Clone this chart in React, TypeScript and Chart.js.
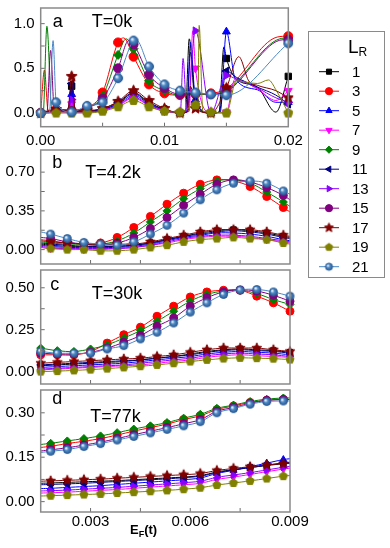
import React, { useEffect, useRef } from 'react';
import { Chart, registerables } from 'chart.js';
import { drawPoint } from 'chart.js/helpers';

Chart.register(...registerables);

const FONT = "'Liberation Sans', Arial, sans-serif";
Chart.defaults.font.family = FONT;

// ---------------- series ----------------
const SERIES_LABELS = ['1', '3', '5', '7', '9', '11', '13', '15', '17', '19', '21'];

// ---------------- panel a (T=0k) ----------------
const A_X = [0, 0.00125, 0.0025, 0.00375, 0.005, 0.00625, 0.0075, 0.00875, 0.01, 0.01125, 0.0125, 0.01375, 0.015, 0.01625, 0.0175, 0.01875, 0.02];
const A_1 = [0, 0.02, 0.30, 0.02, 0.04, 0.11, 0.22, 0.11, 0.04, 0.0, 0.08, 0.0, 0.61, null, null, null, 0.41];
const A_3 = [0, 0.04, 0.03, 0.06, 0.23, 0.79, 0.63, 0.32, 0.22, 0.20, 0.21, 0.22, 0.27, null, null, null, 0.86];
const A_5 = [0, 0.02, 0.21, 0.02, 0.04, 0.10, 0.20, 0.10, 0.03, 0.0, 0.15, 0.0, 0.91, null, null, null, 0.12];
const A_7 = [0, 0.01, 0.10, 0.01, 0.03, 0.08, 0.17, 0.08, 0.02, 0.0, 0.50, 0.0, 0.01, null, null, null, 0.25];
const A_9 = [0, 0.04, 0.03, 0.06, 0.19, 0.65, 0.72, 0.36, 0.25, 0.20, 0.21, 0.21, 0.25, null, null, null, 0.84];
const A_11 = [0, 0.03, 0.33, 0.02, 0.05, 0.12, 0.23, 0.12, 0.04, 0.0, 0.12, 0.0, 0.47, null, null, null, 0.10];
const A_13 = [0, 0.02, 0.15, 0.01, 0.03, 0.09, 0.18, 0.09, 0.03, 0.0, 0.92, 0.0, 0.42, null, null, null, 0.12];
const A_15 = [0, 0.03, 0.02, 0.06, 0.16, 0.50, 0.77, 0.43, 0.28, 0.21, 0.22, 0.21, 0.24, null, null, null, 0.82];
const A_17 = [0, 0.04, 0.41, 0.03, 0.05, 0.13, 0.25, 0.14, 0.05, 0.0, 0.05, 0.0, 0.28, null, null, null, 0.17];
const A_19 = [0, 0.0, 0.0, 0.0, 0.02, 0.07, 0.14, 0.07, 0.02, 0.01, 0.09, 0.01, 0.0, null, null, null, 0.0];
const A_21 = [0, 0.12, 0.01, 0.08, 0.12, 0.39, 0.81, 0.52, 0.32, 0.25, 0.23, 0.21, 0.20, null, null, null, 0.78];

// extra line-only points of panel a (spikes, segments between markers) [x, y]
const AS_1 = [[0.0022, 0.02], [0.0028, 0.02], [0.0117, 0.02], [0.0120, 0.83], [0.0144, 0.01], [0.0148, 0.74], [0.0158, 0.38], [0.0175, 0.29], [0.019, 0.01]];
const AS_3 = [[0.0003, 0.48], [0.0006, 0.03], [0.0067, 0.84], [0.0191, 0.85]];
const AS_5 = [[0.0022, 0.02], [0.0028, 0.02], [0.0118, 0.01], [0.0121, 0.79], [0.0145, 0.01], [0.0157, 0.39], [0.0175, 0.26], [0.019, 0.12]];
const AS_7 = [[0.0022, 0.01], [0.0028, 0.01], [0.0120, 0.02], [0.01228, 0.92], [0.0146, 0.0], [0.0157, 0.38], [0.0175, 0.27], [0.019, 0.14]];
const AS_9 = [[0.0002, 0.0], [0.0005, 0.97], [0.0009, 0.04], [0.0069, 0.83], [0.0193, 0.83]];
const AS_11 = [[0.0022, 0.02], [0.0028, 0.02], [0.0118, 0.01], [0.0121, 0.68], [0.0144, 0.01], [0.0158, 0.40], [0.0175, 0.29], [0.019, 0.20]];
const AS_13 = [[0.0022, 0.01], [0.0028, 0.01], [0.0113, 0.02], [0.0115, 0.61], [0.0118, 0.03], [0.0158, 0.38], [0.0175, 0.28], [0.019, 0.17]];
const AS_15 = [[0.0005, 0.0], [0.0008, 0.70], [0.0011, 0.03], [0.0071, 0.81], [0.0196, 0.82]];
const AS_17 = [[0.0022, 0.03], [0.0028, 0.03], [0.0119, 0.02], [0.0121, 0.30], [0.016, 0.63], [0.0168, 0.36], [0.0175, 0.31], [0.019, 0.25]];
const AS_19 = [[0.0127, 0.10], [0.0128, 0.98], [0.0131, 0.02], [0.0158, 0.36], [0.0175, 0.33], [0.0184, 0.37], [0.019, 0.26]];
const AS_21 = [[0.0007, 0.0], [0.001, 0.81], [0.0077, 0.82]];

// ---------------- panel b (T=4.2k) ----------------
const B_X = [0.0015, 0.0018, 0.0023, 0.0028, 0.0033, 0.0038, 0.0043, 0.0048, 0.0053, 0.0058, 0.0063, 0.0068, 0.0073, 0.0078, 0.0083, 0.0088, 0.009];
const B_1 = [0.05, 0.04, 0.03, 0.03, 0.03, 0.03, 0.04, 0.06, 0.09, 0.12, 0.15, 0.17, 0.18, 0.17, 0.15, 0.12, 0.11];
const B_3 = [0.09, 0.08, 0.06, 0.05, 0.06, 0.11, 0.20, 0.30, 0.41, 0.51, 0.59, 0.63, 0.62, 0.57, 0.48, 0.38, 0.34];
const B_5 = [0.04, 0.03, 0.02, 0.02, 0.02, 0.02, 0.03, 0.05, 0.08, 0.11, 0.13, 0.15, 0.15, 0.14, 0.12, 0.09, 0.08];
const B_7 = [0.02, 0.01, 0.01, 0.00, 0.00, 0.01, 0.02, 0.04, 0.06, 0.09, 0.11, 0.12, 0.12, 0.11, 0.09, 0.07, 0.06];
const B_9 = [0.07, 0.06, 0.05, 0.05, 0.05, 0.08, 0.15, 0.25, 0.35, 0.46, 0.55, 0.62, 0.63, 0.60, 0.52, 0.43, 0.39];
const B_11 = [0.06, 0.05, 0.04, 0.03, 0.03, 0.03, 0.04, 0.06, 0.09, 0.12, 0.14, 0.16, 0.17, 0.16, 0.14, 0.11, 0.10];
const B_13 = [0.03, 0.02, 0.01, 0.01, 0.01, 0.01, 0.02, 0.04, 0.07, 0.10, 0.12, 0.13, 0.13, 0.12, 0.10, 0.08, 0.07];
const B_15 = [0.11, 0.10, 0.07, 0.05, 0.04, 0.06, 0.11, 0.19, 0.29, 0.40, 0.50, 0.59, 0.63, 0.61, 0.56, 0.49, 0.45];
const B_17 = [0.08, 0.07, 0.06, 0.05, 0.05, 0.05, 0.05, 0.07, 0.10, 0.13, 0.16, 0.18, 0.18, 0.18, 0.16, 0.13, 0.12];
const B_19 = [0.02, 0.01, 0.00, 0.00, -0.01, -0.01, 0.00, 0.02, 0.04, 0.07, 0.09, 0.10, 0.11, 0.10, 0.09, 0.06, 0.05];
const B_21 = [0.16, 0.14, 0.10, 0.065, 0.05, 0.04, 0.07, 0.14, 0.22, 0.33, 0.45, 0.54, 0.60, 0.62, 0.60, 0.53, 0.50];

// ---------------- panel c (T=30k) ----------------
const C_X = [0.0015, 0.002, 0.0025, 0.003, 0.0035, 0.004, 0.0045, 0.005, 0.0055, 0.006, 0.0065, 0.007, 0.0075, 0.008, 0.0085, 0.009];
const C_1 = [0.035, 0.04, 0.045, 0.05, 0.055, 0.06, 0.07, 0.08, 0.09, 0.105, 0.12, 0.13, 0.135, 0.13, 0.125, 0.115];
const C_3 = [0.10, 0.10, 0.10, 0.12, 0.17, 0.22, 0.265, 0.33, 0.39, 0.445, 0.475, 0.485, 0.485, 0.45, 0.41, 0.36];
const C_5 = [0.025, 0.03, 0.035, 0.04, 0.045, 0.05, 0.06, 0.07, 0.08, 0.09, 0.105, 0.115, 0.12, 0.115, 0.11, 0.10];
const C_7 = [0.01, 0.015, 0.02, 0.025, 0.03, 0.035, 0.04, 0.05, 0.06, 0.07, 0.085, 0.095, 0.10, 0.095, 0.09, 0.085];
const C_9 = [0.14, 0.125, 0.12, 0.135, 0.16, 0.20, 0.245, 0.30, 0.36, 0.42, 0.46, 0.48, 0.485, 0.465, 0.43, 0.40];
const C_11 = [0.04, 0.045, 0.05, 0.055, 0.06, 0.065, 0.07, 0.08, 0.09, 0.10, 0.115, 0.125, 0.13, 0.125, 0.12, 0.11];
const C_13 = [0.015, 0.02, 0.025, 0.03, 0.035, 0.04, 0.05, 0.06, 0.07, 0.08, 0.095, 0.105, 0.11, 0.105, 0.10, 0.09];
const C_15 = [0.11, 0.105, 0.105, 0.115, 0.14, 0.175, 0.215, 0.27, 0.32, 0.39, 0.44, 0.475, 0.487, 0.48, 0.455, 0.42];
const C_17 = [0.05, 0.055, 0.06, 0.065, 0.07, 0.075, 0.08, 0.09, 0.10, 0.115, 0.13, 0.14, 0.14, 0.14, 0.13, 0.12];
const C_19 = [0.0, 0.003, 0.007, 0.012, 0.018, 0.025, 0.032, 0.04, 0.05, 0.06, 0.07, 0.078, 0.082, 0.08, 0.077, 0.072];
const C_21 = [0.12, 0.11, 0.11, 0.11, 0.135, 0.155, 0.195, 0.235, 0.29, 0.355, 0.41, 0.46, 0.487, 0.49, 0.475, 0.45];

// ---------------- panel d (T=77k) ----------------
const D_X = [0.0015, 0.0018, 0.0023, 0.0028, 0.0033, 0.0038, 0.0043, 0.0048, 0.0053, 0.0058, 0.0063, 0.0068, 0.0073, 0.0078, 0.0083, 0.0088, 0.009];
const D_1 = [0.062, 0.063, 0.065, 0.067, 0.069, 0.071, 0.074, 0.077, 0.080, 0.083, 0.088, 0.100, 0.108, 0.115, 0.122, 0.128, 0.130];
const D_3 = [0.183, 0.187, 0.196, 0.204, 0.213, 0.225, 0.238, 0.250, 0.262, 0.277, 0.290, 0.311, 0.323, 0.335, 0.342, 0.345, 0.345];
const D_5 = [0.044, 0.045, 0.048, 0.051, 0.054, 0.058, 0.062, 0.066, 0.070, 0.074, 0.080, 0.095, 0.106, 0.118, 0.130, 0.142, 0.145];
const D_7 = [0.029, 0.030, 0.032, 0.035, 0.038, 0.041, 0.045, 0.049, 0.053, 0.057, 0.062, 0.075, 0.083, 0.092, 0.101, 0.110, 0.113];
const D_9 = [0.193, 0.197, 0.205, 0.213, 0.222, 0.233, 0.245, 0.256, 0.267, 0.282, 0.295, 0.315, 0.326, 0.338, 0.346, 0.350, 0.350];
const D_11 = [0.057, 0.058, 0.060, 0.062, 0.065, 0.068, 0.071, 0.074, 0.077, 0.081, 0.086, 0.098, 0.107, 0.115, 0.123, 0.131, 0.133];
const D_13 = [0.036, 0.037, 0.039, 0.042, 0.045, 0.048, 0.052, 0.056, 0.060, 0.064, 0.069, 0.082, 0.090, 0.098, 0.107, 0.116, 0.119];
const D_15 = [0.171, 0.175, 0.182, 0.191, 0.201, 0.213, 0.226, 0.238, 0.250, 0.263, 0.277, 0.305, 0.318, 0.332, 0.342, 0.345, 0.345];
const D_17 = [0.069, 0.070, 0.072, 0.074, 0.076, 0.079, 0.082, 0.085, 0.088, 0.091, 0.095, 0.105, 0.112, 0.118, 0.124, 0.128, 0.129];
const D_19 = [0.019, 0.020, 0.022, 0.024, 0.026, 0.029, 0.032, 0.035, 0.038, 0.042, 0.047, 0.056, 0.063, 0.070, 0.078, 0.086, 0.088];
const D_21 = [0.166, 0.170, 0.176, 0.186, 0.196, 0.208, 0.220, 0.232, 0.244, 0.256, 0.270, 0.300, 0.314, 0.329, 0.338, 0.340, 0.340];

// ---------------- ticks ----------------
const A_XTICKS = [0, 0.01, 0.02];
const A_XLABELS = ['0.00', '0.01', '0.02'];
const A_XMINOR = [0.005, 0.015];
const A_YTICKS = [0, 0.5, 1.0];
const A_YLABELS = ['0.0', '0.5', '1.0'];
const A_YMINOR = [0.25, 0.75];
const BCD_XTICKS = [0.003, 0.006, 0.009];
const BCD_XLABELS = ['0.003', '0.006', '0.009'];
const BCD_XMINOR = [0.0045, 0.0075];
const B_YTICKS = [0, 0.35, 0.70];
const B_YLABELS = ['0.00', '0.35', '0.70'];
const B_YMINOR = [0.175, 0.525];
const C_YTICKS = [0, 0.25, 0.5];
const C_YLABELS = ['0.00', '0.25', '0.50'];
const C_YMINOR = [0.125, 0.375];
const D_YTICKS = [0, 0.15, 0.30];
const D_YLABELS = ['0.00', '0.15', '0.30'];
const D_YMINOR = [0.075, 0.225];

// ---------------- styles ----------------
const COLORS = ['#000000', '#ff0000', '#0000ff', '#ff00ff', '#008000', '#000080', '#8a00ff', '#800080', '#800000', '#808000', '#4a87c6'];
const SHAPES = ['rect', 'circle', 'triangle', 'triangle', 'rectRot', 'triangle', 'triangle', 'circle', 'star5', 'pentagon', 'sphere'];
const ROTS = [0, 0, 0, 180, 0, 270, 90, 0, 0, 0, 0];
const DRAW_ORDER = [10, 9, 8, 7, 6, 5, 4, 3, 2, 1, 0];

const imgCache: Record<string, HTMLCanvasElement> = {};
function markerImage(kind: string, color: string, r: number): HTMLCanvasElement {
  const key = kind + color + r;
  if (imgCache[key]) return imgCache[key];
  const s = Math.ceil(r * 2 + 3);
  const c = document.createElement('canvas');
  c.width = s;
  c.height = s;
  const g = c.getContext('2d')!;
  const cx = s / 2;
  const cy = s / 2;
  g.fillStyle = color;
  g.strokeStyle = color;
  g.lineWidth = 1;
  g.beginPath();
  if (kind === 'star5') {
    for (let k = 0; k < 10; k++) {
      const rr = k % 2 === 0 ? r : r * 0.45;
      const a = -Math.PI / 2 + (k * Math.PI) / 5;
      const px = cx + rr * Math.cos(a);
      const py = cy + rr * Math.sin(a);
      if (k === 0) g.moveTo(px, py);
      else g.lineTo(px, py);
    }
    g.closePath();
    g.fill();
    g.stroke();
  } else if (kind === 'pentagon') {
    for (let k = 0; k < 5; k++) {
      const a = -Math.PI / 2 + (k * 2 * Math.PI) / 5;
      const px = cx + r * Math.cos(a);
      const py = cy + r * Math.sin(a);
      if (k === 0) g.moveTo(px, py);
      else g.lineTo(px, py);
    }
    g.closePath();
    g.fill();
    g.stroke();
  } else {
    const grad = g.createRadialGradient(cx - r * 0.35, cy - r * 0.35, r * 0.1, cx, cy, r);
    grad.addColorStop(0, '#f2f6fb');
    grad.addColorStop(0.45, color);
    grad.addColorStop(1, '#2d5e96');
    g.fillStyle = grad;
    g.arc(cx, cy, r, 0, Math.PI * 2);
    g.fill();
    g.strokeStyle = '#2d5e96';
    g.stroke();
  }
  imgCache[key] = c;
  return c;
}

function pointStyleFor(si: number, r: number): any {
  const sh = SHAPES[si];
  if (sh === 'star5') return markerImage('star5', COLORS[si], r + 1.2);
  if (sh === 'pentagon') return markerImage('pentagon', COLORS[si], r + 0.3);
  if (sh === 'sphere') return markerImage('sphere', COLORS[si], r);
  return sh;
}

type Pt = { x: number; y: number; m: boolean };

function gridPoints(xs: number[], ys: number[], edges: boolean): Pt[] {
  return xs.map((x, i) => ({ x, y: ys[i], m: edges ? i > 0 && i < xs.length - 1 : true }));
}

function mergedPoints(xs: number[], ys: (number | null)[], extra: number[][]): Pt[] {
  const pts: Pt[] = [];
  xs.forEach((x, i) => {
    const v = ys[i];
    if (v !== null) pts.push({ x, y: v, m: true });
  });
  extra.forEach(([x, y]) => pts.push({ x, y, m: false }));
  pts.sort((p, q) => p.x - q.x);
  return pts;
}

const A_SERIES = [A_1, A_3, A_5, A_7, A_9, A_11, A_13, A_15, A_17, A_19, A_21];
const AS_SERIES = [AS_1, AS_3, AS_5, AS_7, AS_9, AS_11, AS_13, AS_15, AS_17, AS_19, AS_21];
const B_SERIES = [B_1, B_3, B_5, B_7, B_9, B_11, B_13, B_15, B_17, B_19, B_21];
const C_SERIES = [C_1, C_3, C_5, C_7, C_9, C_11, C_13, C_15, C_17, C_19, C_21];
const D_SERIES = [D_1, D_3, D_5, D_7, D_9, D_11, D_13, D_15, D_17, D_19, D_21];

// canvas margin around each plot area (keeps Chart.js auto padding from moving the plot)
const M = 12;

const PANELS = [
  {
    id: 'a', plotTop: 5, plotBottom: 126.7, left: 40.7, right: 288.3, w: 310, below: 24,
    xMin: 0, xMax: 0.02, yMin: -0.153, yMax: 1.175,
    xTicks: A_XTICKS, xLabels: A_XLABELS, xMinor: A_XMINOR, showX: true, xPad: 5,
    yTicks: A_YTICKS, yLabels: A_YLABELS, yMinor: A_YMINOR,
    points: A_SERIES.map((s, i) => mergedPoints(A_X, s, AS_SERIES[i])),
    r: 4.5, mono: true, texts: [['a', 12, 19], ['T=0k', 51, 19]],
  },
  {
    id: 'b', plotTop: 147, plotBottom: 266.5, left: 40.7, right: 290, w: 310, below: M,
    xMin: 0.0015, xMax: 0.009, yMin: -0.13, yMax: 0.9,
    xTicks: BCD_XTICKS, xLabels: BCD_XLABELS, xMinor: BCD_XMINOR, showX: false, xPad: 0,
    yTicks: B_YTICKS, yLabels: B_YLABELS, yMinor: B_YMINOR,
    points: B_SERIES.map((s) => gridPoints(B_X, s, true)),
    r: 4, mono: false, texts: [['b', 11.5, 18], ['T=4.2k', 44.5, 28]],
  },
  {
    id: 'c', plotTop: 266.5, plotBottom: 386.5, left: 40.7, right: 290, w: 310, below: M,
    xMin: 0.0015, xMax: 0.009, yMin: -0.074, yMax: 0.606,
    xTicks: BCD_XTICKS, xLabels: BCD_XLABELS, xMinor: BCD_XMINOR, showX: false, xPad: 0,
    yTicks: C_YTICKS, yLabels: C_YLABELS, yMinor: C_YMINOR,
    points: C_SERIES.map((s) => gridPoints(C_X, s, false)),
    r: 4, mono: false, texts: [['c', 9.5, 19.5], ['T=30k', 51, 28.5]],
  },
  {
    id: 'd', plotTop: 386.5, plotBottom: 511.5, left: 40.7, right: 290, w: 310, below: 24,
    xMin: 0.0015, xMax: 0.009, yMin: -0.035, yMax: 0.377,
    xTicks: BCD_XTICKS, xLabels: BCD_XLABELS, xMinor: BCD_XMINOR, showX: true, xPad: 1,
    yTicks: D_YTICKS, yLabels: D_YLABELS, yMinor: D_YMINOR,
    points: D_SERIES.map((s) => gridPoints(D_X, s, true)),
    r: 4, mono: false, texts: [['d', 11.5, 13.5], ['T=77k', 49.5, 31.5]],
  },
];

type PanelCfg = (typeof PANELS)[number];

function canvasTop(p: PanelCfg) {
  return p.plotTop - M;
}
function canvasHeight(p: PanelCfg) {
  return Math.ceil(p.plotBottom - p.plotTop + M + p.below);
}

function makeChart(canvas: HTMLCanvasElement, p: PanelCfg) {
  const top = canvasTop(p);
  const h = canvasHeight(p);
  const datasets = DRAW_ORDER.map((si) => ({
    label: SERIES_LABELS[si],
    data: p.points[si],
    borderColor: COLORS[si],
    backgroundColor: COLORS[si],
    borderWidth: 1,
    pointStyle: pointStyleFor(si, p.r),
    pointRotation: ROTS[si],
    pointBackgroundColor: COLORS[si],
    pointBorderColor: COLORS[si],
    pointBorderWidth: 1,
    pointRadius: (ctx: any) => (ctx.raw && ctx.raw.m ? p.r : 0),
    pointHoverRadius: (ctx: any) => (ctx.raw && ctx.raw.m ? p.r : 0),
    tension: p.mono ? 0 : 0.4,
    cubicInterpolationMode: p.mono ? 'monotone' : 'default',
    clip: 5,
  }));

  const deco = {
    id: 'deco' + p.id,
    afterDatasetsDraw(chart: any) {
      const { ctx, chartArea: ca, scales } = chart;
      ctx.save();
      ctx.strokeStyle = '#6e6e6e';
      ctx.lineWidth = 1;
      ctx.beginPath();
      [...p.xTicks, ...p.xMinor].forEach((v) => {
        const px = scales.x.getPixelForValue(v);
        if (px > ca.left + 1 && px < ca.right - 1) {
          ctx.moveTo(px, ca.bottom);
          ctx.lineTo(px, ca.bottom - 4);
        }
      });
      [...p.yTicks, ...p.yMinor].forEach((v) => {
        const py = scales.y.getPixelForValue(v);
        ctx.moveTo(ca.left, py);
        ctx.lineTo(ca.left + 4, py);
      });
      ctx.stroke();
      ctx.strokeStyle = '#8a8a8a';
      ctx.lineWidth = 1.5;
      ctx.strokeRect(ca.left, ca.top, ca.right - ca.left, ca.bottom - ca.top);
      ctx.fillStyle = '#000';
      ctx.font = `18px ${FONT}`;
      ctx.textBaseline = 'alphabetic';
      ctx.textAlign = 'left';
      p.texts.forEach(([t, dx, dy]) => ctx.fillText(t as string, ca.left + (dx as number), ca.top + (dy as number)));
      ctx.restore();
    },
  };

  return new Chart(canvas, {
    type: 'line',
    data: { datasets } as any,
    options: {
      responsive: false,
      animation: false,
      events: [],
      layout: {
        autoPadding: false,
        padding: { left: 0, top: p.plotTop - top, right: p.w - p.right, bottom: 0 },
      },
      plugins: { legend: { display: false }, tooltip: { enabled: false }, title: { display: false } },
      scales: {
        x: {
          type: 'linear',
          min: p.xMin,
          max: p.xMax,
          grid: { display: false, drawTicks: false },
          border: { display: false },
          afterBuildTicks: (s: any) => {
            s.ticks = p.xTicks.map((v) => ({ value: v }));
          },
          afterFit: (s: any) => {
            s.height = top + h - p.plotBottom;
          },
          ticks: {
            display: p.showX,
            autoSkip: false,
            maxRotation: 0,
            padding: p.xPad,
            color: '#000',
            font: { size: 15, family: FONT },
            callback: (_v: any, i: number) => p.xLabels[i],
          },
        },
        y: {
          type: 'linear',
          min: p.yMin,
          max: p.yMax,
          grid: { display: false, drawTicks: false },
          border: { display: false },
          afterBuildTicks: (s: any) => {
            s.ticks = p.yTicks.map((v) => ({ value: v }));
          },
          afterFit: (s: any) => {
            s.width = p.left;
          },
          ticks: {
            padding: 6,
            color: '#000',
            font: { size: 15, family: FONT },
            callback: (_v: any, i: number) => p.yLabels[i],
          },
        },
      },
    } as any,
    plugins: [deco as any],
  });
}

function Panel({ cfg }: { cfg: PanelCfg }) {
  const ref = useRef<HTMLCanvasElement | null>(null);
  useEffect(() => {
    if (!ref.current) return;
    const chart = makeChart(ref.current, cfg);
    return () => chart.destroy();
  }, [cfg]);
  const h = canvasHeight(cfg);
  return (
    <canvas
      ref={ref}
      width={cfg.w}
      height={h}
      style={{ position: 'absolute', left: 0, top: canvasTop(cfg), width: cfg.w, height: h }}
    />
  );
}

// legend geometry (layout)
const LEG_BOX = { left: 308, top: 31, width: 77, height: 247 };
const LEG_ROW0 = 71.7;
const LEG_STEP = 19.5;

function Legend() {
  const ref = useRef<HTMLCanvasElement | null>(null);
  useEffect(() => {
    const c = ref.current;
    if (!c) return;
    const ctx = c.getContext('2d')!;
    ctx.clearRect(0, 0, c.width, c.height);
    SERIES_LABELS.forEach((_, si) => {
      const y = LEG_ROW0 + LEG_STEP * si - 30;
      ctx.strokeStyle = COLORS[si];
      ctx.fillStyle = COLORS[si];
      ctx.lineWidth = 1;
      ctx.beginPath();
      ctx.moveTo(19, y);
      ctx.lineTo(39, y);
      ctx.stroke();
      drawPoint(ctx, { pointStyle: pointStyleFor(si, 3.6), rotation: ROTS[si], radius: 3.6, borderWidth: 1 } as any, 29, y);
    });
  }, []);
  return (
    <>
      <div
        style={{
          position: 'absolute', left: LEG_BOX.left, top: LEG_BOX.top, width: LEG_BOX.width, height: LEG_BOX.height,
          border: '1px solid #8a8a8a', boxSizing: 'border-box',
        }}
      />
      <canvas ref={ref} width={90} height={260} style={{ position: 'absolute', left: 300, top: 30, width: 90, height: 260 }} />
      <div style={{ position: 'absolute', left: 348, top: 36, fontSize: 19, lineHeight: '22px', color: '#000' }}>
        L<span style={{ fontSize: 12, position: 'relative', top: 3 }}>R</span>
      </div>
      {SERIES_LABELS.map((lab, si) => (
        <div
          key={lab}
          style={{
            position: 'absolute', left: 352, top: LEG_ROW0 + LEG_STEP * si - 9,
            fontSize: 15, lineHeight: '18px', color: '#000',
          }}
        >
          {lab}
        </div>
      ))}
    </>
  );
}

export default function App() {
  return (
    <div
      style={{
        position: 'absolute', left: 0, top: 0, width: 390, height: 548, background: '#fff',
        fontFamily: FONT, overflow: 'hidden',
      }}
    >
      {PANELS.map((p) => (
        <Panel key={p.id} cfg={p} />
      ))}
      <Legend />
      <div style={{ position: 'absolute', left: 130, top: 522, fontWeight: 'bold', fontSize: 13, lineHeight: '15px', color: '#000' }}>
        E<span style={{ fontSize: 9, position: 'relative', top: 3 }}>F</span>(t)
      </div>
    </div>
  );
}
